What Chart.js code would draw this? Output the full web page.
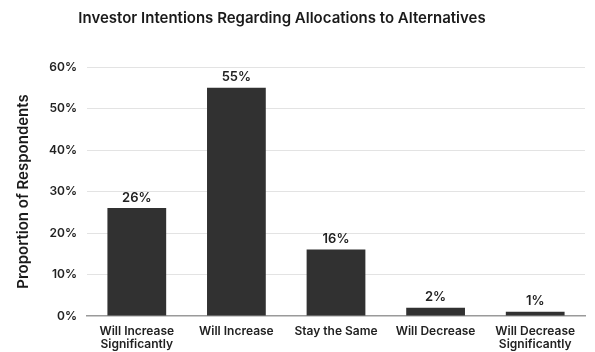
<!DOCTYPE html>
<html>
<head>
<meta charset="utf-8">
<script src="https://cdn.jsdelivr.net/npm/chart.js@4"></script>
<style>
  html, body { margin: 0; padding: 0; background: #ffffff; }
  #wrap { width: 595px; height: 352px; }
</style>
</head>
<body>
<div id="wrap"><canvas id="intentChart" width="595" height="352"></canvas></div>
<script>
// survey answers and their share of respondents (%)
const categories = [
  ["Will Increase", "Significantly"],
  "Will Increase",
  "Stay the Same",
  "Will Decrease",
  ["Will Decrease", "Significantly"],
];
const shares = [26, 55, 16, 2, 1];
const yTicks = [0, 10, 20, 30, 40, 50, 60];
const chartTitle = "Investor Intentions Regarding Allocations to Alternatives";

const FONT = "Inter, 'DejaVu Sans', sans-serif";
const BAR = "#313131";

// heading drawn a little left of centre, over the plot
const heading = {
  id: "heading",
  afterDraw(chart) {
    const ctx = chart.ctx;
    ctx.save();
    ctx.font = "600 15px " + FONT;
    ctx.fillStyle = "#1a1a1a";
    ctx.textAlign = "center";
    ctx.textBaseline = "middle";
    ctx.fillText(chartTitle, 282, 18);
    ctx.restore();
  },
};

// value labels above each bar
const valueLabels = {
  id: "valueLabels",
  afterDatasetsDraw(chart) {
    const ctx = chart.ctx;
    const meta = chart.getDatasetMeta(0);
    ctx.save();
    ctx.font = "600 13px " + FONT;
    ctx.fillStyle = "#222222";
    ctx.textAlign = "center";
    ctx.textBaseline = "bottom";
    meta.data.forEach((bar, i) => {
      ctx.fillText(shares[i] + "%", bar.x, bar.y - 4);
    });
    ctx.restore();
  },
};

new Chart(document.getElementById("intentChart").getContext("2d"), {
  type: "bar",
  data: {
    labels: categories,
    datasets: [
      {
        data: shares,
        backgroundColor: BAR,
        borderWidth: 0,
        categoryPercentage: 1,
        barPercentage: 0.59,
      },
    ],
  },
  options: {
    responsive: false,
    animation: false,
    layout: { padding: { left: 10, right: 10, top: 67, bottom: 0 } },
    plugins: {
      legend: { display: false },
      tooltip: { enabled: false },
      title: { display: false },
    },
    scales: {
      y: {
        min: 0,
        max: 60,
        afterBuildTicks: (scale) => {
          scale.ticks = yTicks.map((v) => ({ value: v }));
        },
        afterFit: (scale) => {
          scale.width = 77;
        },
        grid: {
          color: (c) => (c.tick && c.tick.value === 0 ? "rgba(0,0,0,0)" : "#e3e3e3"),
          drawTicks: false,
        },
        border: { display: false },
        ticks: {
          color: "#222222",
          padding: 10,
          font: { family: FONT, size: 12, weight: "600" },
          callback: (v) => v + "%",
        },
        title: {
          display: true,
          text: "Proportion of Respondents",
          color: "#1a1a1a",
          font: { family: FONT, size: 15, weight: "600" },
          padding: { top: 4, bottom: 2 },
        },
      },
      x: {
        afterFit: (scale) => {
          scale.height = 36;
        },
        grid: { display: false, drawTicks: false },
        border: { display: true, color: "#9a9a9a", width: 1.5 },
        ticks: {
          color: "#222222",
          padding: 9,
          maxRotation: 0,
          autoSkip: false,
          font: { family: FONT, size: 12, weight: "600", lineHeight: 1.05 },
        },
      },
    },
  },
  plugins: [valueLabels, heading],
});
</script>
</body>
</html>
